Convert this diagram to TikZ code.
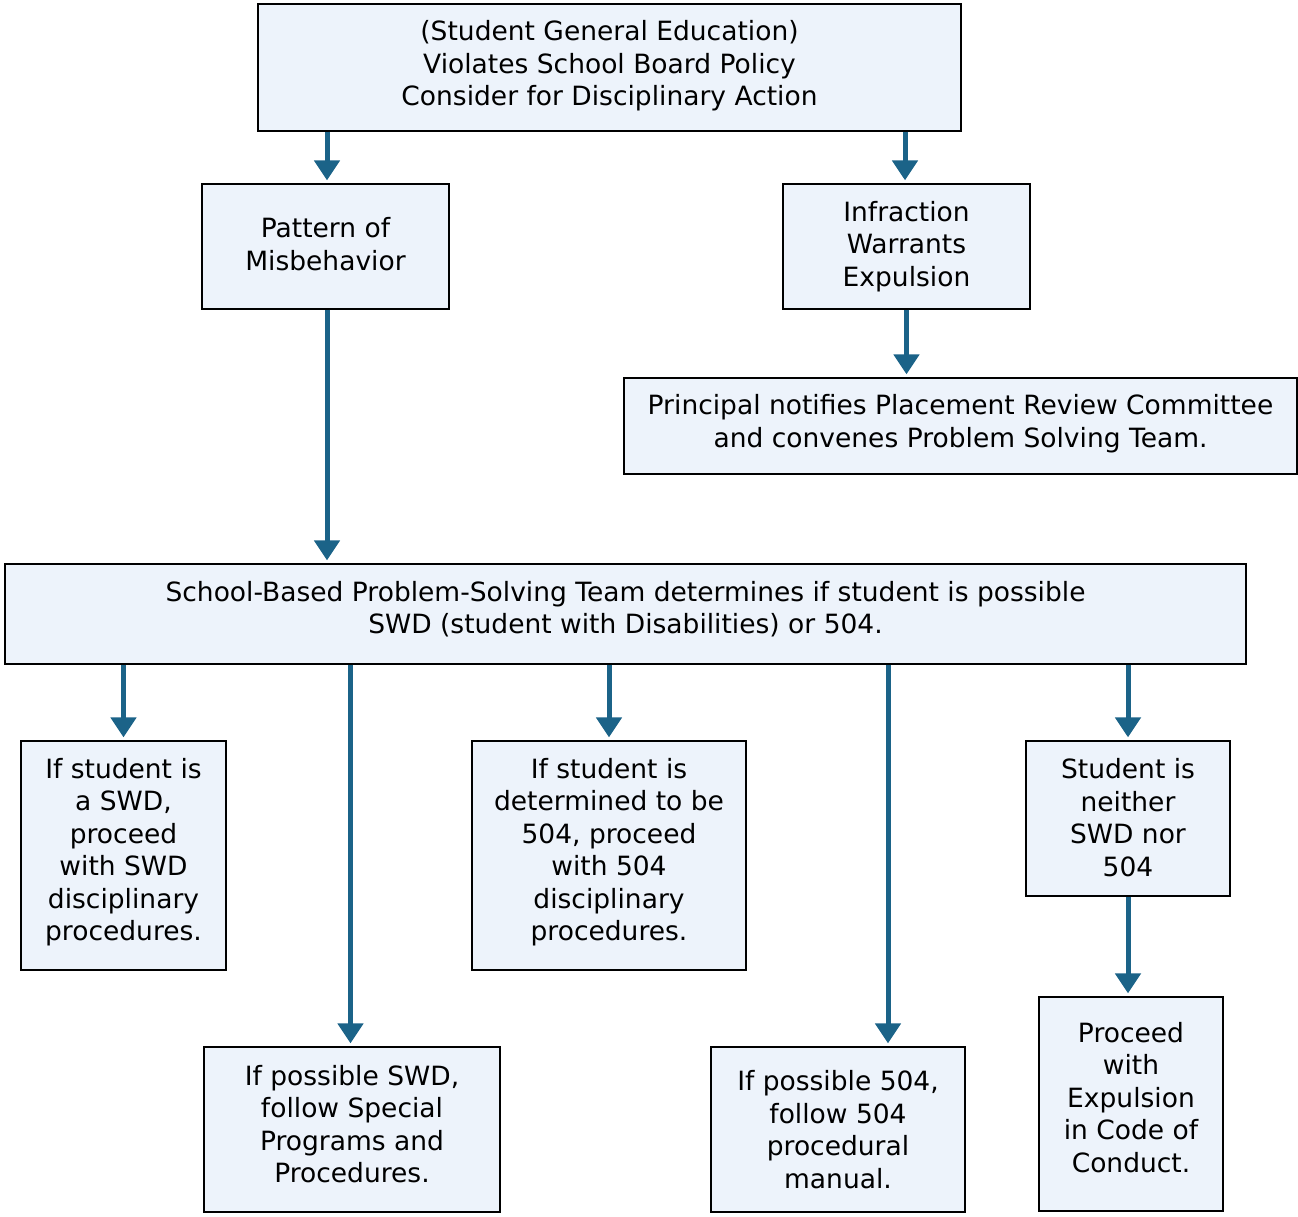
\documentclass[tikz,border=0pt]{standalone}
\usepackage{fontspec}
\setmainfont{DejaVu Sans}
\usetikzlibrary{arrows.meta}
\definecolor{boxfill}{HTML}{EDF3FB}
\definecolor{arrowblue}{HTML}{1B6388}

\begin{document}
\begin{tikzpicture}[x=1pt,y=-1pt,
  stepbox/.style={rectangle,draw=black,fill=boxfill,line width=1.3pt,inner sep=0pt,align=center,
    font=\fontsize{26.5}{32.5}\selectfont},
  flow/.style={draw=arrowblue,line width=5pt,shorten >=3pt,-{Triangle[width=25pt,length=20pt]}}]
  \useasboundingbox (0,0) rectangle (1298,1216);
  \path
(609.5,67.5) node[stepbox,minimum width=703,minimum height=127,text depth=9pt] (top)
  {(Student General Education)\\Violates School Board Policy\\Consider for Disciplinary Action}

(325.5,246.5) node[stepbox,minimum width=247,minimum height=125,text depth=5pt] (pattern)
  {Pattern of\\Misbehavior}
(906.5,246.5) node[stepbox,minimum width=247,minimum height=125] (infraction)
  {Infraction\\Warrants\\Expulsion}
(960.5,426) node[stepbox,minimum width=673,minimum height=96,text depth=10pt] (principal)
  {Principal notifies Placement Review Committee\\and convenes Problem Solving Team.}

(625.5,614) node[stepbox,minimum width=1241,minimum height=100,text depth=13pt] (team)
  {School-Based Problem-Solving Team determines if student is possible\\SWD (student with Disabilities) or 504.}

(123.5,855.5) node[stepbox,minimum width=205,minimum height=229,text depth=12pt] (swd)
  {If student is\\a SWD,\\proceed\\with SWD\\disciplinary\\procedures.}
(609,855.5) node[stepbox,minimum width=274,minimum height=229,text depth=12pt] (five)
  {If student is\\determined to be\\504, proceed\\with 504\\disciplinary\\procedures.}
(1128,818.5) node[stepbox,minimum width=204,minimum height=155,text depth=2pt] (neither)
  {Student is\\neither\\SWD nor\\504}

(352,1129.5) node[stepbox,minimum width=296,minimum height=165,text depth=11pt] (possswd)
  {If possible SWD,\\follow Special\\Programs and\\Procedures.}
(838,1129.5) node[stepbox,minimum width=254,minimum height=165] (poss504)
  {If possible 504,\\follow 504\\procedural\\manual.}
(1131,1104) node[stepbox,minimum width=184,minimum height=214,text depth=14pt] (expel)
  {Proceed\\with\\Expulsion\\in Code of\\Conduct.}
  ;
  \coordinate (patternin) at ([xshift=1.5]pattern.north);
  \coordinate (infractionin) at ([xshift=-1.5]infraction.north);
  \coordinate (pswdin) at ([xshift=-1.5]possswd.north);
  \coordinate (p504in) at ([xshift=50]poss504.north);

  \draw[flow] (top.south -| patternin) -- (patternin);
  \draw[flow] (top.south -| infractionin) -- (infractionin);
  \draw[flow] (infraction.south) -- (principal.north -| infraction.south);
  \draw[flow] (pattern.south -| patternin) -- (team.north -| patternin);
  \draw[flow] (team.south -| swd.north) -- (swd.north);
  \draw[flow] (team.south -| pswdin) -- (pswdin);
  \draw[flow] (team.south -| five.north) -- (five.north);
  \draw[flow] (team.south -| p504in) -- (p504in);
  \draw[flow] (team.south -| neither.north) -- (neither.north);
  \draw[flow] (neither.south) -- (expel.north -| neither.south);
\end{tikzpicture}
\end{document}
